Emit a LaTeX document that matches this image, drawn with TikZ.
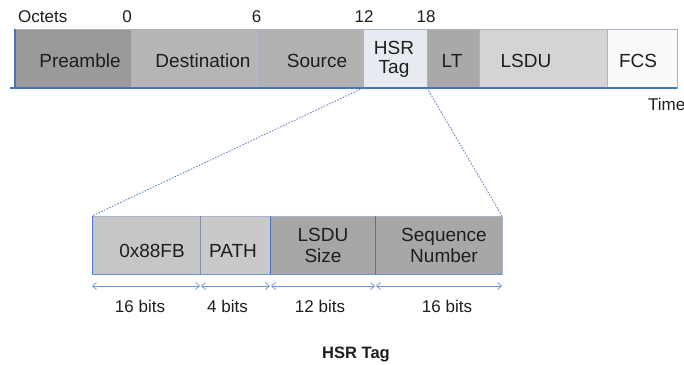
\documentclass[tikz,border=0pt]{standalone}
\usepackage{fontspec}
\setmainfont{Liberation Sans}
\usetikzlibrary{arrows.meta}
\definecolor{txt}{HTML}{1E1E1E}
\definecolor{segline}{HTML}{A9B4C8}
\definecolor{blueline}{HTML}{4A72C0}
\definecolor{dotblue}{HTML}{5B7FC4}
\definecolor{arrblue}{HTML}{6A93D4}
\definecolor{cPre}{HTML}{9A9A9A}
\definecolor{cDst}{HTML}{B5B5B5}
\definecolor{cSrc}{HTML}{B1B1B1}
\definecolor{cHsr}{HTML}{E7EAF0}
\definecolor{cLT}{HTML}{A9A9A9}
\definecolor{cLsdu}{HTML}{D4D4D4}
\definecolor{cFcs}{HTML}{FAFAFA}
\definecolor{cEth}{HTML}{C6C6C6}
\definecolor{cPath}{HTML}{C9C9C9}
\definecolor{cSize}{HTML}{A6A6A6}
\definecolor{cSeq}{HTML}{A7A7A7}
\definecolor{divgray}{HTML}{7F8CA6}
\begin{document}
\begin{tikzpicture}[x=1pt,y=-1pt,
  seg/.style={draw=segline, line width=0.6pt, inner sep=0pt, outer sep=0pt, anchor=north west},
  topseg/.style={seg, minimum height=59pt},
  lowseg/.style={seg, minimum height=58pt},
  lbl/.style={inner sep=0pt, font=\fontsize{19}{18.5}\selectfont, align=center, text=txt},
  lbllow/.style={inner sep=0pt, font=\fontsize{19}{21}\selectfont, align=center, text=txt},
  small/.style={inner sep=0pt, font=\fontsize{17}{20}\selectfont, text=txt},
  edge/.style={draw=blueline, line width=1.1pt},
  div/.style={line width=0.8pt},
  zoomline/.style={draw=dotblue, line width=0.8pt, dash pattern=on 1.6pt off 1.4pt},
  dim/.style={draw=arrblue, line width=0.7pt, {Straight Barb[length=4pt,width=7pt]}-{Straight Barb[length=4pt,width=7pt]}}
]
\useasboundingbox (0,0) rectangle (684,364);
\fill[white] (0,0) rectangle (684,364);

% ---- top frame ----
\node[topseg, fill=cPre,  minimum width=116pt] (pre) at (15,29) {};
\node[topseg, fill=cDst,  minimum width=127pt] (dst) at (131,29) {};
\node[topseg, fill=cSrc,  minimum width=105pt] (src) at (258,29) {};
\node[topseg, fill=cHsr,  minimum width=64pt]  (hsr) at (363,29) {};
\node[topseg, fill=cLT,   minimum width=52pt]  (lt)  at (427,29) {};
\node[topseg, fill=cLsdu, minimum width=128pt] (lsdu) at (479,29) {};
\node[topseg, fill=cFcs,  minimum width=70pt]  (fcs) at (607,29) {};

\coordinate (bl) at (10,88);
\draw[edge] (bl) -- (fcs.south east);
\draw[edge] (pre.north west) -- (pre.south west);

\node[lbl, anchor=base] (tPre) at (80,67) {Preamble};
\node[lbl, anchor=base] (tDst) at (203,67) {Destination};
\node[lbl, anchor=base] (tSrc) at (317,67) {Source};
\node[lbl] (tHsr) at (394,59.2) {HSR\\Tag};
\node[lbl, anchor=base] (tLT) at (452,67) {LT};
\node[lbl, anchor=base] (tLsdu) at (526,67) {LSDU};
\node[lbl, anchor=base] (tFcs) at (638,67) {FCS};

\node[small, anchor=base west] (oct) at (18,22) {Octets};
\node[small, anchor=base] (n0) at (127,22) {0};
\node[small, anchor=base] (n6) at (256.5,22) {6};
\node[small, anchor=base] (n12) at (364,22) {12};
\node[small, anchor=base] (n18) at (426,22) {18};
\node[small, anchor=base west] (time) at (648,110) {Time};

% ---- lower frame ----
\node[lowseg, fill=cEth,  minimum width=108pt] (eth)  at (92,216) {};
\node[lowseg, fill=cPath, minimum width=70pt]  (path) at (200,216) {};
\node[lowseg, fill=cSize, minimum width=105pt] (size) at (270,216) {};
\node[lowseg, fill=cSeq,  minimum width=127pt] (seq)  at (375,216) {};

\draw[div, draw=divgray] (eth.north east) -- (eth.south east);
\draw[div, draw=blueline] (path.north east) -- (path.south east);
\draw[div, draw=blueline] (size.north east) -- (size.south east);
\draw[draw=arrblue, line width=0.8pt] (eth.south west) -- (seq.south east);
\draw[draw=blueline, line width=0.9pt] (eth.north west) -- (eth.south west);

\node[lbllow, anchor=base] (tEth) at (152,257) {0x88FB};
\node[lbllow, anchor=base] (tPath) at (233,257) {PATH};
\node[lbllow] (tSize) at (323,245.7) {LSDU\\Size};
\node[lbllow] (tSeq) at (444,245.7) {Sequence\\Number};

% ---- zoom lines ----
\draw[zoomline] (hsr.south west) -- (eth.north west);
\draw[zoomline] (hsr.south east) -- (seq.north east);

% ---- dimension arrows ----
\coordinate (d0) at (92,286);
\coordinate (d1) at (200.5,286);
\coordinate (d2) at (270.5,286);
\coordinate (d3) at (375.5,286);
\coordinate (d4) at (502,286);
\draw[dim] (d0) -- ([xshift=-0.5pt]d1);
\draw[dim] ([xshift=0.5pt]d1) -- ([xshift=-0.5pt]d2);
\draw[dim] ([xshift=0.5pt]d2) -- ([xshift=-0.5pt]d3);
\draw[dim] ([xshift=0.5pt]d3) -- (d4);

\node[small, anchor=base] (b16a) at (140,312) {16 bits};
\node[small, anchor=base] (b4) at (227.5,312) {4 bits};
\node[small, anchor=base] (b12) at (320,312) {12 bits};
\node[small, anchor=base] (b16b) at (447,312) {16 bits};

\node[inner sep=0pt, anchor=base, text=txt, font=\fontsize{16.5}{20}\selectfont\bfseries] (title) at (356,358) {HSR Tag};
\end{tikzpicture}
\end{document}
